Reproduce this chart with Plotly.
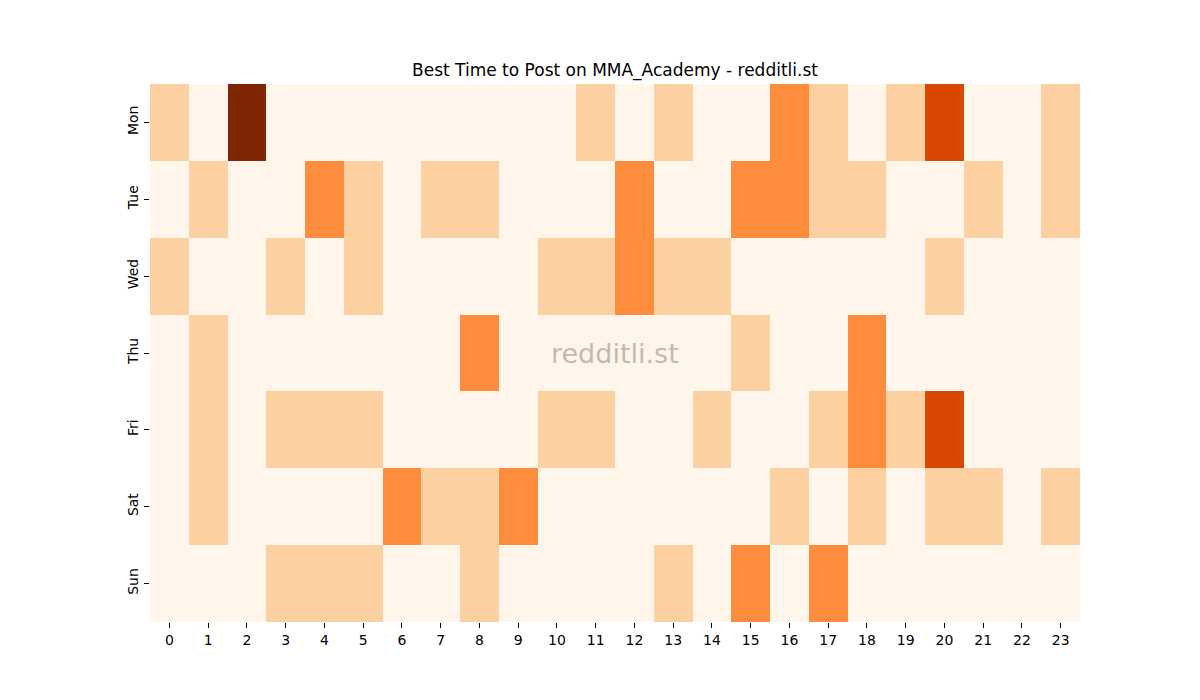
import plotly.graph_objects as go

days = ["Mon", "Tue", "Wed", "Thu", "Fri", "Sat", "Sun"]
hours = list(range(24))

mon = [1, 0, 4, 0, 0, 0, 0, 0, 0, 0, 0, 1, 0, 1, 0, 0, 2, 1, 0, 1, 3, 0, 0, 1]
tue = [0, 1, 0, 0, 2, 1, 0, 1, 1, 0, 0, 0, 2, 0, 0, 2, 2, 1, 1, 0, 0, 1, 0, 1]
wed = [1, 0, 0, 1, 0, 1, 0, 0, 0, 0, 1, 1, 2, 1, 1, 0, 0, 0, 0, 0, 1, 0, 0, 0]
thu = [0, 1, 0, 0, 0, 0, 0, 0, 2, 0, 0, 0, 0, 0, 0, 1, 0, 0, 2, 0, 0, 0, 0, 0]
fri = [0, 1, 0, 1, 1, 1, 0, 0, 0, 0, 1, 1, 0, 0, 1, 0, 0, 1, 2, 1, 3, 0, 0, 0]
sat = [0, 1, 0, 0, 0, 0, 2, 1, 1, 2, 0, 0, 0, 0, 0, 0, 1, 0, 1, 0, 1, 1, 0, 1]
sun = [0, 0, 0, 1, 1, 1, 0, 0, 1, 0, 0, 0, 0, 1, 0, 2, 0, 2, 0, 0, 0, 0, 0, 0]

z = [mon, tue, wed, thu, fri, sat, sun]

oranges = [
    [0.0, "#fff5eb"], [0.125, "#fee6ce"], [0.25, "#fdd0a2"], [0.375, "#fdae6b"],
    [0.5, "#fd8d3c"], [0.625, "#f16913"], [0.75, "#d94801"], [0.875, "#a63603"],
    [1.0, "#7f2704"],
]

fig = go.Figure(go.Heatmap(
    z=z, x=hours, y=days, colorscale=oranges, zmin=0, zmax=4,
    showscale=False, xgap=0, ygap=0, hoverongaps=False,
))

font = "DejaVu Sans"
fig.update_layout(
    width=1200, height=700,
    margin=dict(l=142, r=128, t=76, b=86),
    paper_bgcolor="white", plot_bgcolor="white",
    title=dict(text="Best Time to Post on MMA_Academy - redditli.st",
               x=607 / 1200, xanchor="center", y=1 - 62 / 700, yanchor="middle",
               font=dict(family=font, size=17, color="black")),
    font=dict(family=font, size=14, color="black"),
    xaxis=dict(tickmode="array", tickvals=hours, ticktext=[str(h) for h in hours],
               ticks="outside", ticklen=5, tickcolor="black", showgrid=False,
               zeroline=False, showline=False, tickfont=dict(size=14)),
    yaxis=dict(autorange="reversed", ticks="outside", ticklen=5, tickcolor="black",
               tickangle=-90, showgrid=False, zeroline=False, showline=False,
               tickfont=dict(size=14)),
    annotations=[dict(text="redditli.st", x=0.5, y=0.5, xref="paper", yref="paper",
                      showarrow=False, font=dict(family=font, size=27,
                                                 color="rgba(128,128,128,0.5)"))],
)

fig.write_html("out.html")
